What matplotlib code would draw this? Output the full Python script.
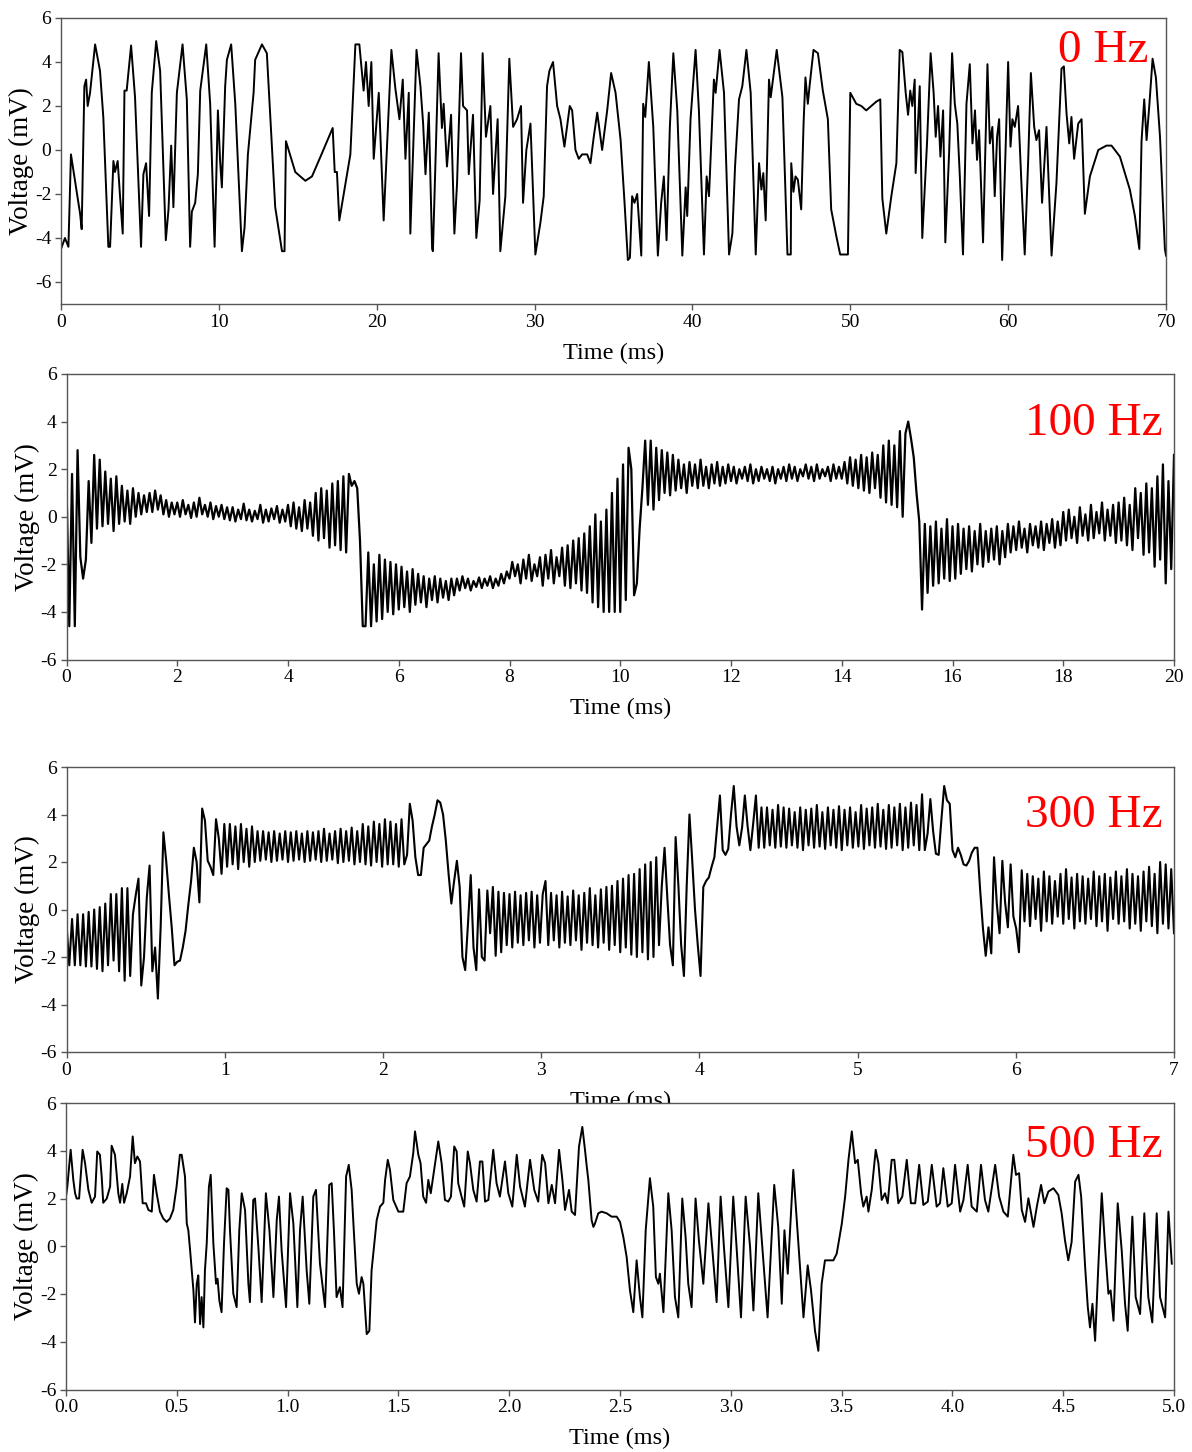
import matplotlib
matplotlib.use("Agg")
import matplotlib.pyplot as plt
import numpy as np

plt.rcParams["font.family"] = ["Liberation Serif", "DejaVu Serif"]
plt.rcParams["axes.unicode_minus"] = False

# ── data ──────────────────────────────────────────────────────────────────────

# 0 Hz: turning points (time in ms, voltage in mV)
T_0HZ = [
    0.0, 0.25, 0.47, 0.63, 1.21, 1.31, 1.48, 1.59, 1.69, 1.84,
    2.16, 2.47, 2.68, 3.00, 3.11, 3.32, 3.42, 3.59, 3.74, 3.91,
    4.02, 4.16, 4.44, 4.69, 5.07, 5.22, 5.39, 5.58, 5.75, 6.03,
    6.28, 6.64, 6.81, 6.98, 7.12, 7.34, 7.70, 7.97, 8.18, 8.29,
    8.50, 8.67, 8.82, 9.20, 9.45, 9.73, 9.94, 10.08, 10.19, 10.40,
    10.51, 10.78, 11.04, 11.46, 11.63, 11.84, 12.20, 12.30, 12.73, 13.04,
    13.57, 14.00, 14.16, 14.25, 14.84, 15.48, 15.90, 16.53, 17.21, 17.34,
    17.48, 17.63, 18.33, 18.65, 18.90, 19.17, 19.32, 19.49, 19.66, 19.81,
    20.13, 20.44, 20.93, 21.18, 21.44, 21.65, 21.82, 22.03, 22.13, 22.52,
    22.77, 22.94, 23.09, 23.30, 23.51, 23.56, 23.92,
    24.13, 24.24, 24.45, 24.71, 24.92, 25.09, 25.34, 25.47, 25.72, 25.83,
    26.10, 26.31, 26.52, 26.71, 26.92, 27.20, 27.37, 27.66, 27.83, 28.15,
    28.40, 28.64, 28.89, 29.14, 29.27, 29.48, 29.74, 30.05, 30.37, 30.58,
    30.79, 30.94, 31.17, 31.43, 31.64, 31.89, 32.23, 32.38, 32.59, 32.80,
    33.01, 33.33, 33.54, 33.75, 33.97, 34.28, 34.60, 34.85, 35.13, 35.45,
    35.70, 35.91, 36.04, 36.18, 36.33, 36.50, 36.76, 36.88, 37.01, 37.24,
    37.52, 37.81, 38.02, 38.19, 38.36, 38.57, 38.79, 39.04, 39.36, 39.57,
    39.67, 39.88, 40.20, 40.41, 40.73, 40.90, 41.05, 41.36, 41.47, 41.72,
    42.00, 42.32, 42.53, 42.70, 42.95, 43.16, 43.42, 43.69, 44.01, 44.22,
    44.37, 44.49, 44.64, 44.85, 44.96, 45.34, 45.70, 46.02, 46.23,
    46.26, 46.40, 46.53, 46.68, 46.89, 47.04, 47.16, 47.31, 47.42, 47.67,
    47.95, 48.26, 48.58, 48.79, 49.11, 49.36, 49.85, 50.00, 50.38, 50.70,
    51.01, 51.33, 51.65, 51.90, 52.03, 52.28, 52.60, 52.92, 53.13, 53.30,
    53.51, 53.66, 53.80, 53.93, 54.08, 54.14, 54.40, 54.56, 54.86, 55.09,
    55.28, 55.41, 55.56, 55.71, 55.88, 56.02, 56.26, 56.45, 56.62, 56.78,
    56.93, 57.14, 57.36, 57.57, 57.74, 57.90, 58.03, 58.16, 58.41, 58.69,
    58.84, 59.00, 59.15, 59.30, 59.43, 59.62, 59.83, 60.00, 60.15, 60.27,
    60.42, 60.63, 60.84, 61.05, 61.27, 61.44, 61.65, 61.79, 61.96, 62.15,
    62.43, 62.75, 63.06, 63.38, 63.53, 63.70, 63.87, 64.01, 64.18, 64.44,
    64.65, 64.86, 65.18, 65.71, 66.23, 66.55, 67.08, 67.71, 68.03, 68.31,
    68.45, 68.62, 68.77, 68.94, 69.15, 69.36, 69.62, 69.93, 70.0,
]
V_0HZ = [
    -4.5, -4.0, -4.4, -0.2, -2.9, -3.6, 2.9, 3.2, 2.0, 2.6,
    4.8, 3.6, 1.5, -4.4, -4.4, -0.5, -1.0, -0.5, -2.1, -3.8,
    2.7, 2.7, 4.75, 2.4, -4.4, -1.1, -0.6, -3.0, 2.6, 4.95,
    3.6, -4.1, -2.7, 0.2, -2.6, 2.6, 4.8, 2.3, -4.4, -2.8,
    -2.4, -1.1, 2.7, 4.8, 2.1, -4.4, 1.8, -0.5, -1.7, 2.9,
    4.1, 4.8, 2.1, -4.6, -3.5, -0.2, 2.6, 4.1, 4.8, 4.4,
    -2.6, -4.6, -4.6, 0.4, -1.0, -1.4, -1.2, -0.15, 1.0, -1.0,
    -1.0, -3.2, -0.2, 4.8, 4.8, 2.7, 4.0, 2.0, 4.0, -0.4,
    2.6, -3.2, 4.55, 2.8, 1.4, 3.2, -0.4, 2.6, -3.8, 4.55,
    2.9, 1.2, -1.1, 1.7, -4.5, -4.6, 4.4,
    1.0, 2.1, -0.75, 1.6, -3.8, -1.5, 4.4, 2.0, 1.8, -1.1,
    1.6, -4.0, -2.3, 4.4, 0.6, 2.0, -2.0, 1.4, -4.6, -2.1,
    4.15, 1.05, 1.4, 2.0, -2.4, 0.0, 1.2, -4.75, -3.3, -2.1,
    2.9, 3.6, 4.0, 2.0, 1.4, 0.15, 2.0, 1.8, 0.0, -0.4,
    -0.2, -0.2, -0.6, 0.6, 1.7, 0.0, 1.8, 3.5, 2.6, 0.45,
    -2.4, -5.0, -4.9, -2.1, -2.4, -2.0, -4.8, 2.1, 1.5, 4.0,
    1.05, -4.8, -2.4, -1.2, -4.1, 1.05, 4.4, 1.8, -4.8, -1.7,
    -3.0, 1.4, 4.55, 1.8, -4.75, -1.2, -2.1, 3.2, 2.6, 4.55,
    2.6, -4.75, -3.8, -0.75, 2.3, 2.9, 4.55, 2.6, -4.75, -0.6,
    -1.8, -1.05, -3.2, 3.2, 2.4, 4.55, 2.4, -4.75, -4.75,
    -0.6, -1.9, -1.2, -1.35, -2.7, 1.2, 3.3, 2.1, 2.9, 4.55,
    4.4, 2.7, 1.4, -2.7, -3.9, -4.75, -4.75, 2.6, 2.1, 2.0,
    1.8, 2.0, 2.2, 2.3, -2.2, -3.8, -2.1, -0.6, 4.55, 4.45,
    2.6, 1.6, 2.7, 2.0, 3.2, -1.05, 2.9, -4.0, 0.3, 4.4,
    2.6, 0.6, 2.0, -0.3, 1.8, -4.2, -0.15, 4.4, 2.1, 1.2,
    -1.05, -4.75, 2.1, 3.9, 0.3, 1.8, -0.45, 0.9, -4.2, 3.9,
    0.3, 1.05, -2.1, 0.6, 1.4, -5.0, -0.15, 4.0, 0.15, 1.4,
    1.05, 2.0, -1.5, -4.75, -0.45, 3.5, 1.05, 0.45, 0.9, -2.4,
    1.05, -4.8, -1.5, 3.7, 3.8, 1.65, 0.3, 1.5, -0.4, 1.2,
    1.4, -2.9, -1.2, 0.0, 0.2, 0.2, -0.3, -1.8, -3.0, -4.5,
    0.4, 2.3, 0.45, 2.0, 4.15, 3.3, 0.6, -4.5, -4.8,
]

# 100 Hz: evenly sampled trace, one value every DT_100HZ ms
DT_100HZ = 0.05
V_100HZ = [
    1.4, -4.6, 1.8, -4.6, 2.8, -1.7, -2.6, -1.8, 1.5, -1.1, 2.6, -0.5, 2.4, -0.4, 1.9, -0.3, 1.6, -0.6, 1.7, -0.3,
    1.3, -0.2, 1.1, -0.3, 1.2, 0.0, 1.0, 0.1, 0.9, 0.2, 1.0, 0.2, 1.1, 0.3, 0.9, 0.1, 0.7, 0.0, 0.6, 0.1,
    0.6, 0.0, 0.7, 0.1, 0.5, -0.05, 0.6, 0.0, 0.8, 0.1, 0.5, 0.0, 0.6, -0.1, 0.45, 0.0, 0.5, -0.1, 0.4, -0.15,
    0.4, -0.2, 0.3, -0.1, 0.55, -0.15, 0.3, -0.2, 0.25, -0.1, 0.5, -0.25, 0.3, -0.2, 0.35, -0.1, 0.45, -0.25, 0.3, -0.2,
    0.5, -0.4, 0.6, -0.5, 0.4, -0.6, 0.7, -0.5, 0.6, -0.8, 1.0, -1.0, 1.2, -0.9, 1.1, -1.3, 1.4, -1.2, 1.5, -1.4,
    1.7, -1.5, 1.8, 1.3, 1.5, 1.2, -1.0, -4.6, -4.6, -1.5, -4.6, -2.0, -4.4, -1.6, -4.3, -1.8, -4.0, -1.9, -4.1, -2.0,
    -3.9, -2.1, -3.8, -2.3, -4.0, -2.2, -3.7, -2.4, -3.6, -2.5, -3.8, -2.6, -3.5, -2.5, -3.6, -2.6, -3.4, -2.7, -3.5, -2.6,
    -3.3, -2.6, -3.1, -2.5, -3.0, -2.6, -3.1, -2.7, -2.95, -2.55, -3.0, -2.6, -2.9, -2.5, -3.0, -2.6, -2.9, -2.4, -2.8, -2.3,
    -2.6, -1.9, -2.5, -2.0, -2.8, -1.8, -2.6, -1.6, -2.7, -2.0, -2.5, -1.7, -2.9, -1.6, -2.6, -1.4, -2.8, -1.7, -2.5, -1.3,
    -2.9, -1.2, -3.0, -1.0, -2.8, -0.9, -3.1, -0.7, -3.2, -0.4, -3.6, 0.1, -3.8, -0.2, -4.0, 0.3, -4.0, 1.0, -4.0, 1.6,
    -4.0, 2.2, -3.5, 2.9, 2.0, -3.3, -2.8, -0.5, 1.2, 3.2, 0.5, 3.2, 0.3, 2.9, 0.7, 2.8, 1.0, 2.7, 0.9, 2.6,
    1.1, 2.4, 1.2, 2.2, 1.0, 2.3, 1.3, 2.2, 1.2, 2.4, 1.3, 2.1, 1.2, 2.2, 1.4, 2.3, 1.3, 2.1, 1.4, 2.2,
    1.5, 2.1, 1.4, 2.0, 1.6, 2.1, 1.5, 2.2, 1.4, 2.0, 1.5, 2.1, 1.6, 2.0, 1.5, 2.1, 1.4, 2.0, 1.6, 2.1,
    1.5, 2.2, 1.6, 2.1, 1.5, 2.0, 1.7, 2.2, 1.6, 2.1, 1.5, 2.2, 1.6, 2.0, 1.7, 2.1, 1.5, 2.2, 1.6, 2.1,
    1.6, 2.3, 1.4, 2.5, 1.3, 2.4, 1.2, 2.6, 1.1, 2.5, 1.0, 2.7, 1.2, 2.6, 0.8, 3.0, 0.6, 3.2, 0.5, 3.0,
    0.4, 3.6, 0.0, 3.5, 4.0, 3.3, 2.5, 1.0, -0.2, -3.9, -0.3, -3.2, -0.4, -2.9, -0.2, -2.8, -0.5, -2.6, -0.1, -2.7,
    -0.4, -2.6, -0.3, -2.4, -0.5, -2.2, -0.4, -2.3, -0.6, -2.0, -0.3, -2.1, -0.6, -1.9, -0.5, -1.8, -0.4, -2.0, -0.6, -1.7,
    -0.3, -1.5, -0.4, -1.4, -0.2, -1.3, -0.5, -1.5, -0.3, -1.2, -0.4, -1.3, -0.2, -1.4, -0.3, -1.1, -0.1, -1.3, -0.2, -1.2,
    0.2, -1.0, 0.3, -0.9, 0.0, -1.1, 0.4, -0.8, 0.1, -1.0, 0.5, -0.9, 0.2, -0.7, 0.6, -1.0, 0.3, -0.8, 0.5, -1.1,
    0.6, -1.0, 0.8, -1.2, 0.5, -1.4, 1.2, -0.9, 1.0, -1.6, 1.4, -1.5, 1.2, -2.1, 1.7, -1.8, 2.2, -2.8, 1.5, -2.2,
    2.6,
]

# 300 Hz: evenly sampled trace, one value every DT_300HZ ms
DT_300HZ = 0.0175
V_300HZ = [
    -0.6, -2.35, -0.4, -2.35, -0.2, -2.35, -0.2, -2.4, -0.1, -2.4,
    0.0, -2.5, 0.1, -2.6, 0.25, -2.35, 0.65, -2.15, 0.65, -2.6,
    0.9, -3.0, 0.9, -2.8, -0.2, 0.6, 1.3, -3.2, -2.0, 0.5,
    1.85, -2.6, -1.6, -3.75, -0.75, 3.25, 2.05, 0.6, -0.75, -2.35,
    -2.2, -2.15, -1.6, -0.9, 0.2, 1.2, 2.6, 2.0, 0.3, 4.25,
    3.75, 2.05, 1.8, 1.45, 3.8, 3.0, 1.5, 3.6, 1.8, 3.6,
    1.9, 3.5, 1.7, 3.6, 2.0, 3.4, 1.8, 3.5, 2.0, 3.3,
    2.05, 3.3, 2.1, 3.25, 2.0, 3.3, 2.05, 3.2, 2.1, 3.3,
    2.0, 3.25, 2.05, 3.3, 2.1, 3.2, 2.0, 3.3, 2.05, 3.25,
    2.1, 3.3, 2.0, 3.4, 2.05, 3.2, 2.1, 3.3, 1.95, 3.4,
    2.0, 3.3, 2.05, 3.45, 1.9, 3.3, 2.0, 3.6, 1.9, 3.5,
    1.85, 3.7, 2.0, 3.6, 1.8, 3.8, 1.9, 3.7, 1.9, 3.6,
    1.8, 3.8, 1.9, 2.3, 4.45, 3.75, 2.2, 1.45, 1.45, 2.6,
    2.75, 2.9, 3.5, 4.0, 4.6, 4.5, 4.0, 2.9, 1.5, 0.25,
    1.2, 2.05, 0.95, -2.0, -2.55, -0.6, 1.45, -1.6, -2.55, 0.85,
    -2.0, -2.15, 0.8, -1.0, 0.95, -1.95, 0.75, -1.8, 0.7, -1.5,
    0.65, -1.6, 0.75, -1.4, 0.6, -1.5, 0.7, -1.3, 0.75, -1.6,
    0.6, -1.4, 0.65, 1.2, -1.5, 0.7, -1.3, 0.6, -1.6, 0.75,
    -1.4, 0.55, -1.5, 0.8, -1.3, 0.6, -1.7, 0.7, -1.4, 0.9,
    -1.5, 0.6, -1.6, 0.85, -1.4, 0.95, -1.7, 1.0, -1.5, 1.2,
    -1.8, 1.3, -1.6, 1.45, -1.9, 1.5, -2.0, 1.7, -1.8, 1.9,
    -2.1, 2.0, -2.0, 2.2, -1.5, 1.0, 2.6, 0.5, -1.5, -2.35,
    3.05, 1.0, -1.5, -2.8, 1.0, 4.0, 2.05, 0.0, -1.5, -2.8,
    0.95, 1.2, 1.35, 1.8, 2.2, 3.5, 4.8, 2.5, 2.3, 2.55,
    4.0, 5.2, 3.5, 2.7, 3.45, 4.8, 3.5, 2.5, 3.6, 4.8,
    2.6, 4.3, 2.6, 4.3, 2.7, 4.2, 2.6, 4.4, 2.65, 4.3,
    2.6, 4.25, 2.7, 4.1, 2.6, 4.3, 2.5, 4.2, 2.7, 4.25,
    2.6, 4.4, 2.65, 4.1, 2.55, 4.3, 2.7, 4.2, 2.6, 4.35,
    2.5, 4.2, 2.7, 4.3, 2.6, 4.1, 2.65, 4.4, 2.55, 4.25,
    2.7, 4.3, 2.6, 4.45, 2.65, 4.2, 2.55, 4.4, 2.6, 4.3,
    2.7, 4.45, 2.5, 4.3, 2.6, 4.5, 2.7, 4.4, 2.5, 4.85,
    2.5, 3.2, 4.65, 3.3, 2.35, 2.3, 3.8, 5.2, 4.6, 4.45,
    2.5, 2.2, 2.6, 2.3, 1.9, 1.85, 2.05, 2.4, 2.6, 2.6,
    0.8, -0.8, -1.95, -0.75, -1.85, 2.2, 0.25, -1.0, 2.05, 0.3,
    -0.75, 1.9, -0.3, -0.8, -1.8, 1.65, -0.5, 1.5, -0.7, 1.4,
    -0.4, 1.3, -0.9, 1.6, -0.5, 1.4, -0.6, 1.2, -0.3, 1.5,
    -0.6, 1.7, -0.4, 1.35, -0.8, 1.5, -0.5, 1.4, -0.6, 1.3,
    -0.4, 1.6, -0.7, 1.4, -0.5, 1.5, -0.9, 1.35, -0.4, 1.6,
    -0.6, 1.4, -0.5, 1.7, -0.8, 1.5, -0.6, 1.4, -0.9, 1.6,
    -0.5, 1.8, -0.7, 1.5, -1.0, 2.0, -0.6, 1.9, -0.8, 1.7,
    -1.0,
]

# 500 Hz: turning points (time in ms, voltage in mV)
T_500HZ = [
    0.000, 0.006, 0.021, 0.033, 0.041, 0.048, 0.059, 0.075, 0.086, 0.101,
    0.116, 0.131, 0.141, 0.153, 0.161, 0.168, 0.184, 0.199, 0.206, 0.221,
    0.236, 0.244, 0.254, 0.262, 0.274, 0.289, 0.301, 0.311, 0.322, 0.334,
    0.346, 0.361, 0.372, 0.387, 0.397, 0.409, 0.424, 0.439, 0.454, 0.469,
    0.484, 0.499, 0.514, 0.522, 0.537, 0.545, 0.552, 0.560, 0.575, 0.582,
    0.590, 0.597, 0.605, 0.612, 0.620, 0.627, 0.635, 0.645, 0.653, 0.665,
    0.677, 0.684, 0.692, 0.702, 0.713, 0.725, 0.733, 0.740, 0.755, 0.770,
    0.782, 0.793, 0.808, 0.823, 0.830, 0.845, 0.853, 0.868, 0.883, 0.902,
    0.918, 0.936, 0.951, 0.961, 0.973, 0.993, 1.011, 1.026, 1.044, 1.056,
    1.068, 1.086, 1.098, 1.116, 1.128, 1.146, 1.169, 1.188, 1.199, 1.209,
    1.221, 1.236, 1.248, 1.264, 1.276, 1.289, 1.297, 1.312, 1.322, 1.334,
    1.342, 1.357, 1.369, 1.379, 1.394, 1.402, 1.417, 1.432, 1.440, 1.452,
    1.462, 1.477, 1.500, 1.522, 1.537, 1.552, 1.567, 1.575, 1.590, 1.600,
    1.612, 1.625, 1.635, 1.646, 1.680, 1.695, 1.710, 1.725, 1.737, 1.752,
    1.763, 1.770, 1.785, 1.797, 1.813, 1.823, 1.838, 1.853, 1.868, 1.879,
    1.891, 1.906, 1.928, 1.943, 1.958, 1.981, 1.996, 2.014, 2.034, 2.049,
    2.071, 2.094, 2.113, 2.131, 2.149, 2.162, 2.177, 2.192, 2.207, 2.225,
    2.240, 2.252, 2.270, 2.282, 2.297, 2.315, 2.330, 2.342, 2.350, 2.357,
    2.372, 2.380, 2.387, 2.402, 2.417, 2.440, 2.462, 2.485, 2.500, 2.515,
    2.530, 2.545, 2.560, 2.575, 2.590, 2.601, 2.616, 2.635, 2.650, 2.662,
    2.673, 2.680, 2.696, 2.718, 2.733, 2.748, 2.763, 2.781, 2.796, 2.808,
    2.823, 2.841, 2.856, 2.876, 2.899, 2.917, 2.936, 2.954, 2.969, 2.989,
    3.011, 3.026, 3.046, 3.067, 3.087, 3.102, 3.124, 3.142, 3.166, 3.196,
    3.214, 3.230, 3.242, 3.257, 3.282, 3.305, 3.328, 3.347, 3.362, 3.380,
    3.395, 3.410, 3.425, 3.463, 3.478, 3.501, 3.516, 3.531, 3.546, 3.561,
    3.573, 3.588, 3.598, 3.613, 3.621, 3.636, 3.654, 3.666, 3.681, 3.696,
    3.708, 3.726, 3.738, 3.756, 3.774, 3.794, 3.813, 3.832, 3.850, 3.869,
    3.889, 3.907, 3.929, 3.944, 3.959, 3.979, 3.997, 4.012, 4.035, 4.050,
    4.069, 4.087, 4.110, 4.129, 4.147, 4.162, 4.193, 4.211, 4.230, 4.250,
    4.275, 4.287, 4.301, 4.313, 4.328, 4.343, 4.366, 4.381, 4.400, 4.415,
    4.433, 4.456, 4.478, 4.493, 4.508, 4.523, 4.538, 4.554, 4.569, 4.581,
    4.599, 4.611, 4.621, 4.632, 4.644, 4.659, 4.674, 4.689, 4.704, 4.714,
    4.727, 4.746, 4.764, 4.779, 4.791, 4.812, 4.827, 4.847, 4.866, 4.884,
    4.902, 4.922, 4.937, 4.960, 4.975, 4.990,
]
V_500HZ = [
    2.08, 2.5, 4.04, 2.78, 2.22, 2.0, 2.0, 4.04, 3.48, 2.36,
    1.82, 2.08, 3.97, 3.83, 2.92, 1.82, 2.0, 2.5, 4.21, 3.83,
    2.22, 1.82, 2.61, 1.82, 2.22, 2.92, 4.6, 3.48, 3.76, 3.55,
    1.8, 1.8, 1.52, 1.45, 2.99, 2.22, 1.45, 1.16, 1.02, 1.16,
    1.52, 2.5, 3.83, 3.83, 2.92, 0.95, 0.67, -0.17, -1.85, -3.19,
    -1.57, -1.22, -3.26, -2.13, -3.4, -1.01, 0.11, 2.5, 2.99, 0.11,
    -1.57, -1.36, -2.27, -2.76, 0.11, 2.43, 2.36, 0.67, -1.99, -2.55,
    0.67, 2.22, 1.52, -1.57, -2.34, 1.94, 2.0, -0.03, -2.34, 2.22,
    0.67, -2.13, 1.09, 2.08, -0.17, -2.55, 2.22, 0.95, -2.55, 0.67,
    2.08, -1.01, -2.41, 2.08, 2.36, -0.73, -2.55, 2.57, 2.64, 0.67,
    -2.13, -1.71, -2.55, 2.92, 3.41, 2.36, 0.95, -1.57, -1.99, -1.29,
    -1.57, -3.68, -3.54, -1.01, 0.39, 1.09, 1.66, 1.82, 2.78, 3.62,
    3.2, 1.94, 1.45, 1.45, 2.64, 2.92, 3.9, 4.81, 3.83, 3.48,
    2.08, 1.82, 2.78, 2.22, 4.39, 3.48, 1.94, 1.87, 2.08, 4.18,
    3.97, 2.64, 2.08, 1.66, 3.97, 3.48, 2.36, 1.87, 3.55, 3.55,
    1.87, 1.94, 4.04, 2.64, 2.08, 3.55, 2.22, 1.66, 3.83, 2.5,
    1.66, 3.62, 2.36, 1.87, 3.83, 3.48, 1.8, 2.57, 1.8, 4.04,
    2.78, 1.52, 2.36, 1.45, 1.31, 4.18, 5.0, 4.04, 3.34, 2.78,
    1.09, 0.81, 0.95, 1.38, 1.45, 1.38, 1.24, 1.24, 1.02, 0.39,
    -0.45, -1.85, -2.76, -0.59, -2.13, -2.98, 0.67, 2.85, 1.66, -1.29,
    -1.57, -1.15, -2.76, 2.22, 0.67, -2.13, -2.98, 2.0, 0.39, -1.57,
    -2.55, 2.0, 0.25, -1.57, 1.8, -0.17, -2.34, 2.08, -0.03, -2.55,
    2.08, -0.03, -2.98, 2.08, -0.03, -2.69, 2.22, -0.03, -2.98, 2.57,
    0.81, -2.41, 0.67, -1.15, 3.2, 0.11, -2.98, -0.8, -1.85, -3.54,
    -4.38, -1.57, -0.59, -0.59, -0.31, 0.95, 2.08, 3.62, 4.81, 3.48,
    3.62, 2.22, 1.66, 2.08, 1.45, 2.36, 4.04, 3.48, 1.94, 2.22,
    1.8, 3.62, 3.62, 1.8, 2.08, 3.62, 1.8, 1.8, 3.41, 1.73,
    1.87, 3.41, 1.66, 1.8, 3.27, 1.66, 1.8, 3.41, 1.45, 1.94,
    3.41, 1.66, 1.45, 3.41, 1.94, 1.45, 3.41, 2.08, 1.45, 1.24,
    3.83, 2.99, 3.06, 1.52, 1.02, 2.01, 0.81, 1.66, 2.57, 1.8,
    2.29, 2.43, 2.15, 1.38, 0.25, -0.59, 0.18, 2.71, 2.99, 2.08,
    -0.87, -2.55, -3.4, -2.41, -3.96, -0.73, 2.22, -0.03, -1.99, -1.85,
    -3.12, 1.8, -0.17, -2.41, -3.54, 1.24, -2.13, -2.84, 1.38, -2.13,
    -3.19, 1.38, -2.13, -2.98, 1.45, -0.73,
]

PANEL_LABELS = ["0 Hz", "100 Hz", "300 Hz", "500 Hz"]
XTICKS = [
    [0, 10, 20, 30, 40, 50, 60, 70],
    [0, 2, 4, 6, 8, 10, 12, 14, 16, 18, 20],
    [0, 1, 2, 3, 4, 5, 6, 7],
    [0.0, 0.5, 1.0, 1.5, 2.0, 2.5, 3.0, 3.5, 4.0, 4.5, 5.0],
]
XTICK_LABELS_500HZ = ["0.0", "0.5", "1.0", "1.5", "2.0", "2.5",
                      "3.0", "3.5", "4.0", "4.5", "5.0"]
YTICKS = [-6, -4, -2, 0, 2, 4, 6]

# ── layout (pixels measured on the reference) ────────────────────────────────
W, H = 1192, 1452
BOXES = [  # left, top, right, bottom
    (61, 18, 1166, 304),
    (66.5, 374, 1174, 659.5),
    (66.5, 767, 1174, 1052),
    (66, 1103, 1174, 1389.5),
]
LABEL_POS = [(0.984, 0.847), (0.990, 0.786), (0.990, 0.789), (0.990, 0.811)]
YLIMS = [(-7, 6), (-6, 6), (-6, 6), (-6, 6)]
XLIMS = [(0, 70), (0, 20), (0, 7), (0, 5)]

t100 = np.arange(len(V_100HZ)) * DT_100HZ
t300 = np.arange(len(V_300HZ)) * DT_300HZ
series = [
    (np.asarray(T_0HZ), np.asarray(V_0HZ)),
    (t100, np.asarray(V_100HZ)),
    (t300, np.asarray(V_300HZ)),
    (np.asarray(T_500HZ), np.asarray(V_500HZ)),
]
LINE_W = [1.4, 1.6, 1.5, 1.4]

fig = plt.figure(figsize=(W / 100, H / 100), dpi=100)
fig.patch.set_facecolor("white")

SPINE = "#555555"
for k, (l, t, r, b) in enumerate(BOXES):
    ax = fig.add_axes([l / W, 1 - b / H, (r - l) / W, (b - t) / H])
    x, y = series[k]
    ax.plot(x, y, color="black", lw=LINE_W[k])

    ax.set_xlim(*XLIMS[k])
    ax.set_ylim(*YLIMS[k])
    ax.set_xticks(XTICKS[k])
    if k == 3:
        ax.set_xticklabels(XTICK_LABELS_500HZ)
    ax.set_yticks(YTICKS)

    ax.tick_params(direction="out", length=4, width=1, color=SPINE,
                   labelsize=14, pad=3)
    for spine in ax.spines.values():
        spine.set_edgecolor(SPINE)
        spine.set_linewidth(1.0)

    ax.set_xlabel("Time (ms)", fontsize=17.5)
    ax.xaxis.set_label_coords(0.5, -0.135)
    ax.set_ylabel("Voltage (mV)", fontsize=19.5)
    ax.yaxis.set_label_coords(-0.024, 0.5)

    lx, ly = LABEL_POS[k]
    ax.text(lx, ly, PANEL_LABELS[k], transform=ax.transAxes,
            ha="right", va="baseline", color="red", fontsize=34)

fig.savefig("out.png", dpi=100, facecolor="white")
